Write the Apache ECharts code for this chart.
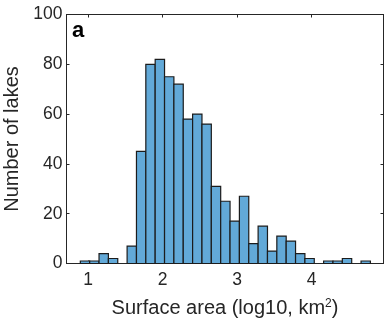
<!DOCTYPE html>
<html>
<head>
<meta charset="utf-8">
<script src="https://cdn.jsdelivr.net/npm/echarts@6/dist/echarts.min.js"></script>
<style>html,body{margin:0;padding:0;background:#fff;}#c{width:384px;height:325px;}</style>
</head>
<body>
<div id="c"></div>
<script>
// Histogram data
const binStart = 0.897;   // left edge of first bin (log10 km^2)
const binWidth = 0.1255;  // bin width (log10 km^2)
const counts = [1, 1, 4, 2, 0, 7, 45, 80, 82, 75, 72, 58, 60, 56, 31, 25, 17, 27, 8, 15, 5, 11, 9, 4, 2, 0, 1, 1, 2, 0, 1];
const xTicks = [1, 2, 3, 4];
const yTicks = [0, 20, 40, 60, 80, 100];
const xLabel = 'Surface area (log10, km';
const yLabel = 'Number of lakes';
const panelLabel = 'a';

const FONT = '"Liberation Sans", Arial, Helvetica, sans-serif';
const AX = '#262626';
const xMin = 0.7117, xMax = 4.963;

const bins = [];
counts.forEach((c, i) => {
  if (c > 0) bins.push([binStart + i * binWidth, binStart + (i + 1) * binWidth, c]);
});

const chart = echarts.init(document.getElementById('c'), null, {renderer: 'canvas'});
const baseX = {
  type: 'value', min: xMin, max: xMax,
  splitLine: {show: false},
  axisLine: {show: true, onZero: false, lineStyle: {color: AX, width: 1}},
  axisTick: {show: true, inside: true, length: 3, customValues: xTicks, lineStyle: {color: AX}},
};
const baseY = {
  type: 'value', min: 0, max: 100, interval: 20,
  splitLine: {show: false},
  axisLine: {show: true, lineStyle: {color: AX, width: 1}},
  axisTick: {show: true, inside: true, length: 3, lineStyle: {color: AX}},
};
chart.setOption({
  animation: false,
  backgroundColor: '#fff',
  grid: {left: 66.5, top: 14.5, right: 0.5, bottom: 61.5, containLabel: false, outerBoundsMode: 'none'},
  xAxis: [
    Object.assign({}, baseX, {
      position: 'bottom',
      axisLabel: {show: true, customValues: xTicks, margin: 8, fontSize: 17.5, color: AX, fontFamily: FONT},
      name: '{t|' + xLabel + '}{s|2}{t|)}',
      nameLocation: 'middle', nameGap: 34,
      nameTextStyle: {
        color: AX, fontFamily: FONT, fontSize: 20,
        rich: {
          t: {fontSize: 20, color: AX, fontFamily: FONT, lineHeight: 22},
          s: {fontSize: 12, color: AX, fontFamily: FONT, verticalAlign: 'top', lineHeight: 10}
        }
      }
    }),
    Object.assign({}, baseX, {position: 'top', axisLabel: {show: false}})
  ],
  yAxis: [
    Object.assign({}, baseY, {
      position: 'left',
      axisLabel: {show: true, margin: 4, fontSize: 17.5, color: AX, fontFamily: FONT},
      name: yLabel, nameLocation: 'middle', nameGap: 40,
      nameTextStyle: {color: AX, fontFamily: FONT, fontSize: 20}
    }),
    Object.assign({}, baseY, {position: 'right', axisLabel: {show: false}})
  ],
  graphic: [{
    type: 'text', left: 72, top: 19.5,
    style: {text: panelLabel, font: 'bold 22px ' + FONT, fill: '#000'}
  }],
  series: [{
    type: 'custom',
    xAxisIndex: 0, yAxisIndex: 0,
    encode: {x: [0, 1], y: 2},
    data: bins,
    renderItem: function (params, api) {
      const p0 = api.coord([api.value(0), api.value(2)]);
      const p1 = api.coord([api.value(1), 0]);
      return {
        type: 'rect',
        shape: {x: p0[0], y: p0[1], width: p1[0] - p0[0], height: p1[1] - p0[1]},
        style: {fill: '#62A9D8', stroke: '#1c1c1c', lineWidth: 1.2}
      };
    }
  }]
});
</script>
</body>
</html>
